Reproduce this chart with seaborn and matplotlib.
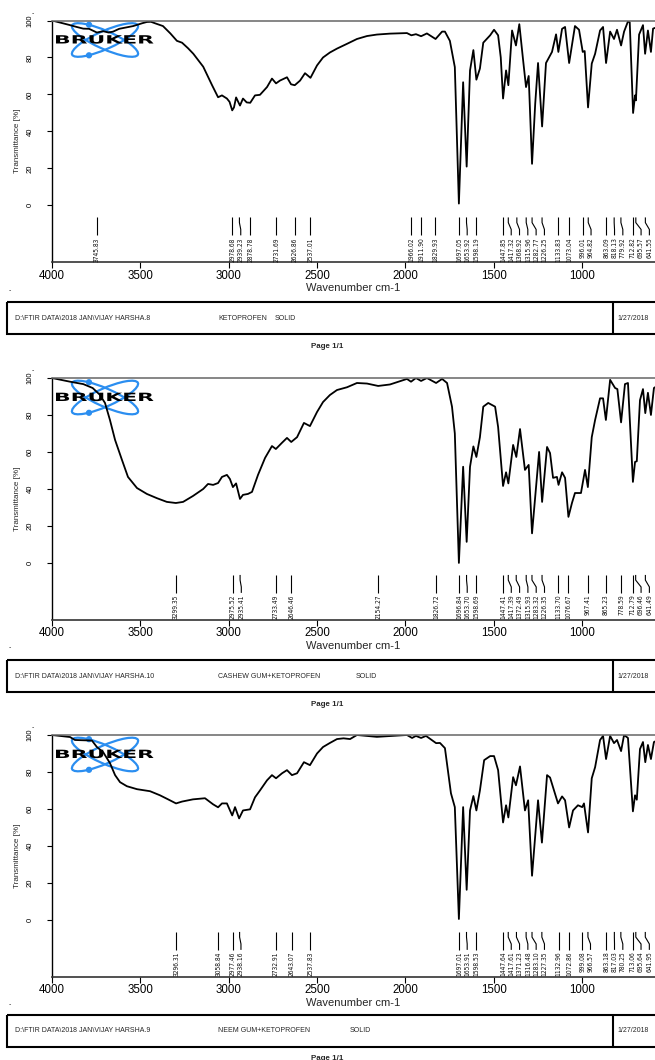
import numpy as np
import pandas as pd
import matplotlib
matplotlib.use("Agg")
import matplotlib.pyplot as plt
import seaborn as sns
from matplotlib import font_manager
from matplotlib.patches import Ellipse, Rectangle, Circle
from matplotlib.patheffects import AbstractPathEffect
from matplotlib.transforms import Affine2D

# ---------------- data ----------------
wn1 = [4000, 3898, 3860, 3823, 3790, 3746, 3710, 3680, 3654, 3620, 3540, 3490, 3463, 3440, 3417, 3372,
       3330, 3293, 3264, 3230, 3200, 3144, 3094, 3060, 3038, 3010, 2995, 2980, 2970, 2958, 2936, 2919,
       2898, 2878, 2851, 2823, 2783, 2755, 2732, 2710, 2670, 2647, 2626, 2596, 2568, 2537, 2500, 2466,
       2427, 2387, 2330, 2274, 2217, 2161, 2087, 1991, 1966, 1940, 1911, 1878, 1829, 1792, 1776, 1748,
       1720, 1697, 1673, 1653, 1634, 1615, 1598, 1578, 1559, 1520, 1498, 1475, 1460, 1447, 1430, 1417,
       1396, 1374, 1355, 1334, 1317, 1302, 1283, 1265, 1249, 1226, 1204, 1170, 1147, 1134, 1113, 1096,
       1073, 1040, 1017, 996, 985, 966, 945, 926, 898, 881, 864, 841, 819, 802, 779, 762, 740, 730, 711,
       700, 695, 677, 655, 643, 627, 610, 598, 587]
t1 = [100, 97.5, 96.5, 95.6, 95.5, 93.5, 94.2, 93.5, 94, 95.5, 97, 98.5, 99.2, 99.3, 98.5, 97,
      93, 89, 88, 85, 82, 75, 65, 58.5, 59.5, 57.8, 56, 51.4, 53, 58.4, 54, 57.8,
      55.7, 55.5, 59.5, 59.8, 64, 68.6, 66, 67.5, 69.3, 65.5, 65, 67.5, 71.5, 69, 75.7, 80,
      82.7, 84.8, 87.4, 90, 91.6, 92.4, 92.9, 93.2, 92, 92.6, 91.5, 93, 90, 94, 94, 89,
      74.8, 1, 66.6, 21, 73, 84, 68, 74, 88, 92, 95, 92, 80, 57.8, 73, 65,
      94.6, 86.5, 98, 79, 64, 70, 22.5, 55, 77, 42.7, 77, 83, 92.5, 83, 95.5, 96.5,
      77, 97, 95, 83, 83.5, 53, 76.7, 82, 94.6, 96.5, 77, 94, 90, 95, 86.5, 94, 99.5, 99, 50,
      59.5, 56.8, 92.4, 97.5, 82, 94.6, 83, 95.6, 96]

wn2 = [4000, 3898, 3823, 3770, 3730, 3700, 3672, 3643, 3604, 3570, 3519, 3463, 3406, 3350, 3299, 3258,
       3202, 3144, 3117, 3088, 3060, 3038, 3010, 2993, 2976, 2958, 2936, 2919, 2891, 2868, 2834, 2794,
       2755, 2733, 2698, 2670, 2646, 2613, 2574, 2540, 2500, 2466, 2427, 2387, 2330, 2274, 2217, 2154,
       2087, 1991, 1968, 1940, 1911, 1878, 1826, 1792, 1764, 1736, 1720, 1697, 1673, 1653, 1634, 1615,
       1598, 1578, 1559, 1531, 1492, 1475, 1447, 1430, 1417, 1390, 1372, 1351, 1323, 1302, 1283, 1243,
       1226, 1198, 1181, 1164, 1142, 1133, 1113, 1096, 1077, 1057, 1040, 1006, 983, 967, 945, 926,
       898, 881, 865, 841, 813, 800, 779, 757, 740, 712, 700, 690, 672, 655, 642, 627, 610, 593, 587]
t2 = [100, 98, 96.7, 94.6, 91, 86.5, 77.3, 66.5, 55.7, 46.5, 40.5, 37.3, 35, 33, 32.4, 33,
      36.2, 40, 42.7, 42.2, 43.2, 46.5, 47.6, 45.4, 41, 43, 34.6, 36.8, 37.3, 38.4, 47.6, 56.8,
      63.2, 61.6, 65, 67.6, 65.4, 68, 75.7, 74, 81.6, 87, 90.8, 93.5, 95, 97.3, 97, 95.7,
      96.5, 99.5, 98, 100, 98.4, 100, 97.3, 99.5, 97.3, 84.5, 70, 0, 52, 11.4, 52, 63,
      57.3, 68, 84.5, 86.5, 84.5, 73.5, 41.6, 49, 43, 63.8, 57.3, 72.4, 50.3, 53, 16, 60,
      33, 62.7, 59.4, 46, 46.5, 42.2, 49, 46, 24.9, 32.4, 37.8, 37.8, 50.3, 41, 68, 77.3,
      89, 89, 77.3, 99, 94.6, 94, 76, 96.7, 97.3, 43.8, 54.6, 55, 88, 94, 81, 92, 80, 94.6, 95]

wn3 = [4000, 3898, 3870, 3774, 3746, 3711, 3672, 3643, 3615, 3576, 3519, 3445, 3389, 3343, 3298, 3264,
       3202, 3134, 3088, 3060, 3038, 3010, 2980, 2964, 2941, 2919, 2879, 2851, 2823, 2783, 2755, 2732,
       2698, 2670, 2642, 2613, 2574, 2540, 2500, 2466, 2427, 2387, 2350, 2313, 2274, 2161, 1991, 1962,
       1940, 1911, 1883, 1826, 1804, 1776, 1742, 1720, 1697, 1673, 1653, 1634, 1615, 1598, 1578, 1554,
       1520, 1498, 1475, 1447, 1430, 1417, 1390, 1374, 1351, 1323, 1305, 1283, 1249, 1227, 1198, 1181,
       1164, 1136, 1113, 1096, 1073, 1051, 1023, 999, 989, 966, 945, 926, 898, 881, 864, 841, 819, 802,
       779, 762, 740, 712, 700, 690, 672, 655, 642, 627, 610, 593, 587]
t3 = [100, 98.9, 97.3, 97, 93.5, 90.8, 84.8, 78.3, 74.5, 72.3, 70.7, 69.6, 67.4, 65.2, 63, 64,
      65.2, 65.8, 62.5, 60.9, 63, 63, 56.5, 61, 54.9, 59.2, 59.8, 66.3, 70, 75.5, 78.3, 76.6,
      79.3, 81, 78.3, 79.3, 85.3, 83.7, 90, 93.5, 95.7, 97.8, 98.2, 97.8, 100, 99, 100, 98.4,
      99.5, 98.4, 99.5, 95.6, 95.7, 92.9, 68.5, 61, 0.5, 61, 16.3, 59.2, 67, 59.2, 70, 86.4,
      88.6, 88.6, 81, 52.7, 62, 55.4, 77.2, 72.8, 83, 59.2, 64.7, 23.9, 64.7, 41.8, 78.3, 77,
      71.7, 63, 66.8, 64.7, 50, 59.2, 62, 61, 63, 47.3, 76.6, 82.6, 97.3, 99.5, 87, 99.5, 95.6, 97.3,
      91.3, 100, 98.4, 58.7, 67.4, 65, 92.4, 96.2, 85.3, 94.6, 87, 96.2, 96.5]

peaks1 = [3745.83, 2978.68, 2939.23, 2878.78, 2731.69, 2626.86, 2537.01, 1966.02, 1911.90, 1829.93,
          1697.05, 1653.92, 1598.19, 1447.85, 1417.32, 1368.92, 1315.96, 1282.77, 1226.25, 1133.83,
          1073.04, 996.01, 964.82, 863.09, 818.13, 779.92, 712.82, 695.57, 641.55]
peaks2 = [3299.35, 2975.52, 2935.41, 2733.49, 2646.46, 2154.27, 1826.72, 1696.84, 1653.70, 1598.69,
          1447.41, 1417.39, 1372.49, 1315.93, 1283.32, 1226.35, 1133.70, 1076.67, 967.41, 865.23,
          778.59, 712.79, 696.46, 641.49]
peaks3 = [3296.31, 3058.84, 2977.46, 2938.16, 2732.91, 2643.07, 2537.83, 1697.01, 1653.91, 1598.53,
          1447.64, 1417.61, 1371.23, 1316.48, 1283.10, 1227.35, 1132.96, 1072.86, 999.08, 966.57,
          863.18, 817.03, 780.25, 713.06, 695.64, 641.95]

x_ticks = [4000, 3500, 3000, 2500, 2000, 1500, 1000]
y_ticks = [0, 20, 40, 60, 80, 100]

paths = [r"D:\FTIR DATA\2018 JAN\VIJAY HARSHA.8",
         r"D:\FTIR DATA\2018 JAN\VIJAY HARSHA.10",
         r"D:\FTIR DATA\2018 JAN\VIJAY HARSHA.9"]
samples = ["KETOPROFEN", "CASHEW GUM+KETOPROFEN", "NEEM GUM+KETOPROFEN"]
states = ["SOLID", "SOLID", "SOLID"]
dates = ["1/27/2018", "1/27/2018", "1/27/2018"]

spectra = [(wn1, t1, peaks1), (wn2, t2, peaks2), (wn3, t3, peaks3)]

# ---------------- style ----------------
sns.set_theme(style="ticks")
avail = {f.name for f in font_manager.fontManager.ttflist}
MAIN = "Liberation Sans" if "Liberation Sans" in avail else "DejaVu Sans"
if "Liberation Sans Narrow" in avail:
    NARROW, NSIZE, NSTRETCH = "Liberation Sans Narrow", 6.0, "normal"
elif "DejaVu Sans Condensed" in avail:
    NARROW, NSIZE, NSTRETCH = "DejaVu Sans Condensed", 5.0, "normal"
else:
    NARROW, NSIZE, NSTRETCH = "DejaVu Sans", 4.8, "condensed"
plt.rcParams["font.family"] = [MAIN, "DejaVu Sans"]


class StretchX(AbstractPathEffect):
    """Horizontally stretch a text path around its origin (wide logo lettering)."""
    def __init__(self, sx):
        super().__init__()
        self.sx = sx

    def draw_path(self, renderer, gc, tpath, affine, rgbFace=None):
        x0, y0 = affine.transform((0, 0))
        new = affine + Affine2D().translate(-x0, -y0).scale(self.sx, 1).translate(x0, y0)
        renderer.draw_path(gc, tpath, new, rgbFace)


W, H = 655, 1060
fig = plt.figure(figsize=(W / 100, H / 100), dpi=100)
fig.patch.set_facecolor("white")

page = fig.add_axes([0, 0, 1, 1], zorder=0)
page.set_xlim(0, W)
page.set_ylim(H, 0)
page.axis("off")

LEFT = 52
AX_H = 241.5
TOPS = [20.5, 378, 735]
FOOT = [302, 660, 1015]
PAGE_Y = [347, 705, 1058]
SOLID_X = [275, 356, 350]
BLUE = "#2b8ef0"
D_SEP = 47  # min label separation in wavenumber units

for i, (wn, tr, peaks) in enumerate(spectra):
    top = TOPS[i]
    # logo (behind)
    cy = top + 19.5
    for ang in (24, -24):
        page.add_patch(Ellipse((105, cy), 72, 18, angle=ang, fill=False, ec=BLUE, lw=1.6))
    page.add_patch(Circle((89, cy - 15.3), 2.4, color=BLUE))
    page.add_patch(Circle((89, cy + 15.3), 2.4, color=BLUE))
    page.text(54, cy + 0.5, "BRUKER", ha="left", va="center", fontsize=8.2, weight="heavy",
              family="DejaVu Sans", color="black", path_effects=[StretchX(1.92)])

    ax = fig.add_axes([LEFT / W, 1 - (top + AX_H) / H, 1 - LEFT / W, AX_H / H], zorder=2)
    ax.patch.set_alpha(0)
    df = pd.DataFrame({"Wavenumber": wn, "Transmittance": tr})
    sns.lineplot(data=df, x="Wavenumber", y="Transmittance", ax=ax, color="black",
                 linewidth=1.3, estimator=None, sort=False)
    ax.set_xlim(4000, 587)
    ax.set_ylim(-30.6, 100)
    ax.set_xticks(x_ticks)
    ax.set_xticklabels([str(v) for v in x_ticks], fontsize=8.3)
    ax.set_yticks(y_ticks)
    ax.set_yticklabels([str(v) for v in y_ticks], fontsize=5.5, rotation=90, va="center")
    ax.tick_params(axis="x", direction="out", length=4, width=0.8, pad=1.5, colors="black")
    ax.tick_params(axis="y", direction="out", length=3.5, width=0.8, pad=9.5, colors="black")
    ax.set_xlabel("Wavenumber cm-1", fontsize=8, labelpad=1)
    ax.set_ylabel("Transmittance [%]", fontsize=5.8, labelpad=4.5)
    ax.spines["right"].set_visible(False)
    ax.spines["left"].set_color("black")
    ax.spines["left"].set_linewidth(1.0)
    ax.spines["bottom"].set_color("#333333")
    ax.spines["bottom"].set_linewidth(1.2)
    ax.spines["top"].set_color("#666666")
    ax.spines["top"].set_linewidth(1.1)

    # peak labels (greedy spreading left -> right)
    pk = sorted(peaks, reverse=True)
    pos = []
    for p in pk:
        q = p if not pos else min(p, pos[-1] - D_SEP)
        pos.append(q)
    for p, q in zip(pk, pos):
        ax.plot([p, p, q, q], [-6.5, -9.3, -13.0, -16.2], color="black", lw=0.8,
                clip_on=False, solid_capstyle="butt")
        ax.text(q, -17.2, f"{p:.2f}", rotation=90, ha="center", va="top",
                fontsize=NSIZE, family=NARROW, fontstretch=NSTRETCH, color="#111111")

    # stray dashes
    page.text(33, top - 7, "-", fontsize=5, ha="center", va="center")
    page.text(10, top + 270, "-", fontsize=5, ha="center", va="center")

    # footer box
    fy = FOOT[i]
    page.add_patch(Rectangle((7, fy), 720, 32, fill=False, ec="black", lw=1.5))
    page.plot([613, 613], [fy, fy + 32], color="black", lw=1.5)
    page.text(15, fy + 16, paths[i], fontsize=5, va="center", ha="left")
    page.text(218, fy + 16, samples[i], fontsize=5, va="center", ha="left")
    page.text(SOLID_X[i], fy + 16, states[i], fontsize=5, va="center", ha="left")
    page.text(617, fy + 16, dates[i], fontsize=5, va="center", ha="left")
    page.text(327.5, PAGE_Y[i], "Page 1/1", fontsize=5.7, weight="bold", ha="center", va="center")

fig.savefig("out.png", dpi=100)
